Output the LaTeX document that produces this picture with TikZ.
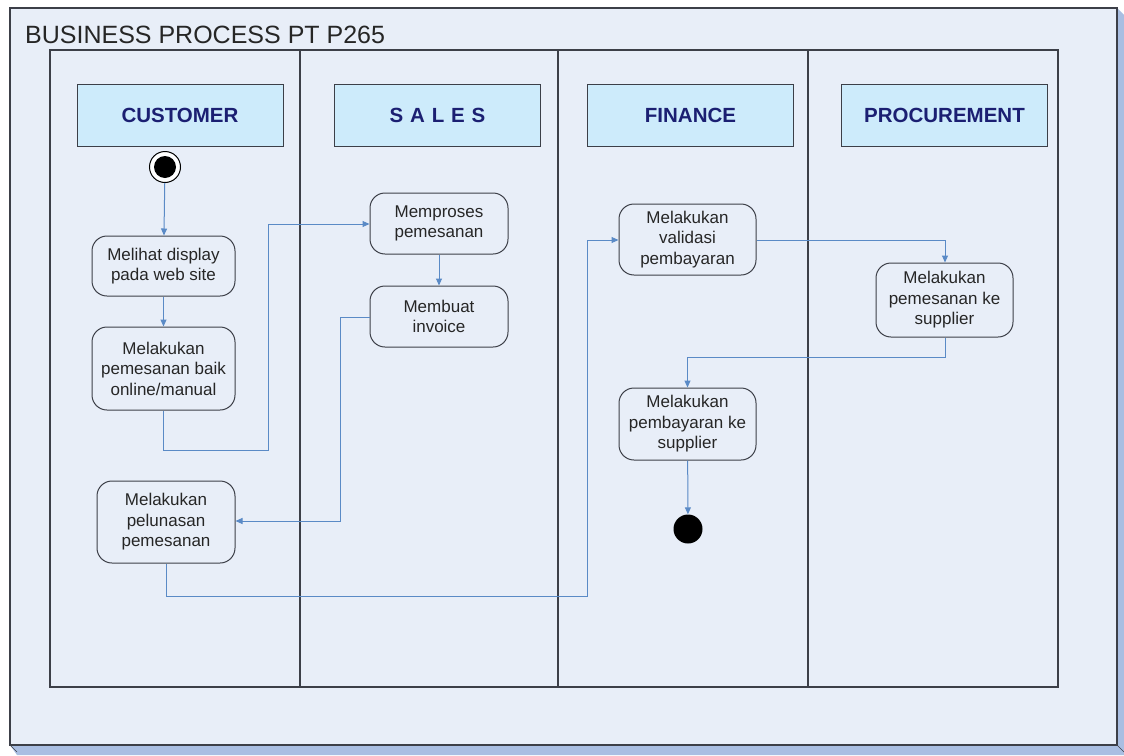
\documentclass[tikz,border=0pt]{standalone}
\usepackage{fontspec}
\setmainfont{Liberation Sans}
\usetikzlibrary{arrows.meta}
\definecolor{bgc}{HTML}{E8EEF8}
\definecolor{shadec}{HTML}{A9BEE2}
\definecolor{hdrc}{HTML}{CDEBFB}
\definecolor{navy}{HTML}{1B1F72}
\definecolor{flowc}{HTML}{5A8AC6}
\definecolor{framec}{HTML}{3C3F48}
\tikzset{
  act/.style={draw=framec, line width=1pt, rounded corners=15pt, fill=bgc,
    align=center, inner sep=2pt, font=\fontsize{17}{20.5}\selectfont, text=black!85,
    minimum width=143pt},
  hdr/.style={draw=framec, line width=1pt, fill=hdrc, minimum width=206pt,
    minimum height=62pt, font=\fontsize{20.5}{23}\selectfont\bfseries, text=navy},
  flow/.style={draw=flowc, line width=1pt, -{Triangle[length=7pt,width=6pt]}},
}
\begin{document}
\begin{tikzpicture}[x=1pt,y=-1pt]
\useasboundingbox (0,0) rectangle (1124,755);
\fill[white] (0,0) rectangle (1124,755);
% 3D slab
\fill[shadec] (1117,8) -- (1124,15) -- (1124,755) -- (17,755) -- (10,745) -- (1117,745) -- cycle;
\draw[framec, line width=0.6pt] (1117,745) -- (1124,752);
\draw[framec, line width=0.6pt] (10,745) -- (17,752);
\draw[fill=bgc, draw=framec, line width=1.2pt] (10,8) rectangle (1117,745);
\node[anchor=base west, font=\fontsize{25}{28}\selectfont, text=black!85, inner sep=0] (title) at (25,43) {BUSINESS PROCESS PT P265};
% swimlanes
\draw[framec, line width=1.2pt] (50,50) rectangle (1058,687);
\draw[framec, line width=1.2pt] (300,50) -- (300,687);
\draw[framec, line width=1.2pt] (558,50) -- (558,687);
\draw[framec, line width=1.2pt] (808,50) -- (808,687);
% headers
\node[hdr] (hc) at (180,115) {CUSTOMER};
\node[hdr] (hs) at (437.5,115) {S\,\,A\,\,L\,\,E\,\,S};
\node[hdr] (hf) at (690.5,115) {FINANCE};
\node[hdr] (hp) at (944.5,115) {PROCUREMENT};
% start / end
\node[circle, draw=black, line width=1pt, fill=white, minimum size=31pt, inner sep=0] (start) at (165,167) {};
\fill[black] (start.center) circle (11pt);
\node[circle, fill=black, minimum size=29pt, inner sep=0] (end) at (688,529) {};
% activities
\node[act, minimum height=60pt] (lihat) at (163.5,266) {Melihat display\\pada web site};
\node[act, minimum height=83pt] (pesan) at (163.5,368.5) {Melakukan\\pemesanan baik\\online/manual};
\node[act, minimum width=138pt, minimum height=82pt] (lunas) at (166,522) {Melakukan\\pelunasan\\pemesanan};
\node[act, minimum width=138pt, minimum height=61pt] (proses) at (439,223.5) {Memproses\\pemesanan};
\node[act, minimum width=138pt, minimum height=61pt] (invoice) at (439,316.5) {Membuat\\invoice};
\node[act, minimum width=137pt, minimum height=71pt] (valid) at (687.5,239.5) {Melakukan\\validasi\\pembayaran};
\node[act, minimum width=137pt, minimum height=74pt] (pesansup) at (944.5,300) {Melakukan\\pemesanan ke\\supplier};
\node[act, minimum width=137pt, minimum height=72pt] (bayar) at (687.5,424) {Melakukan\\pembayaran ke\\supplier};
% bend points
\coordinate (b1) at (163.5,450);
\coordinate (b2) at (268,450);
\coordinate (b3) at (268,224);
\coordinate (c1) at (340,317);
\coordinate (c2) at (340,521);
\coordinate (d1) at (166,596);
\coordinate (d2) at (587,596);
\coordinate (d3) at (587,240);
\coordinate (e1) at (945,240);
\coordinate (f1) at (945,357);
\coordinate (f2) at (687.5,357);
% connectors
\draw[flow] (start) -- (lihat);
\draw[flow] (lihat) -- (pesan);
\draw[flow] (pesan.south) -- (b1) -- (b2) -- (b3) -- (proses.west |- b3);
\draw[flow] (proses) -- (invoice);
\draw[flow] (invoice.west |- c1) -- (c1) -- (c2) -- (lunas.east |- c2);
\draw[flow] (lunas.south) -- (d1) -- (d2) -- (d3) -- (valid.west |- d3);
\draw[flow] (valid.east |- e1) -- (e1) -- (pesansup.north -| e1);
\draw[flow] (pesansup.south -| f1) -- (f1) -- (f2) -- (bayar.north);
\draw[flow] (bayar) -- (end);
\end{tikzpicture}
\end{document}
